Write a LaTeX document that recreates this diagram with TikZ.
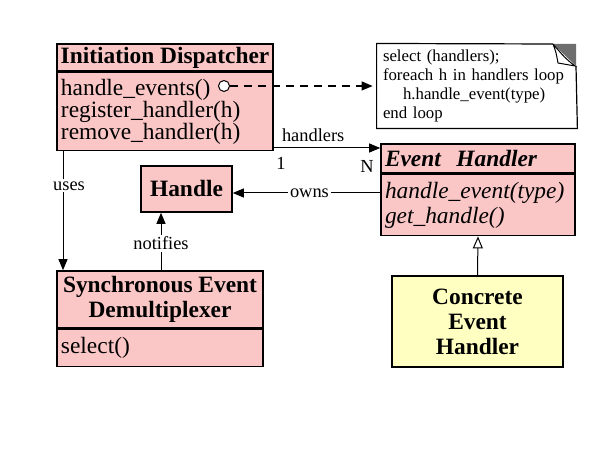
\documentclass[tikz,border=0pt]{standalone}
\usepackage{fontspec}
\setmainfont{Liberation Serif}
\usetikzlibrary{positioning,arrows.meta}
\definecolor{classpink}{RGB}{250,198,198}
\definecolor{classyellow}{RGB}{255,255,194}
\definecolor{foldgray}{RGB}{110,110,110}
\tikzset{
  cls/.style={draw, fill=classpink, line width=0.8pt, inner sep=2pt},
  clsname/.style={cls, font=\bfseries\fontsize{11.7}{12.5}\selectfont},
  clsops/.style={cls, align=left, font=\fontsize{11.7}{11}\selectfont},
  lbl/.style={font=\fontsize{9.2}{10}\selectfont, inner sep=1pt},
  conn/.style={line width=0.5pt, -{Triangle[length=5.5pt,width=4.5pt]}},
}
\begin{document}
\begin{tikzpicture}[x=0.5pt,y=-0.5pt]
  \useasboundingbox (0,0) rectangle (606,453);

  % initiation dispatcher
  \node[clsname, minimum width=108pt, minimum height=13.5pt, inner sep=0pt] (disp) at (165,57.5) {Initiation Dispatcher};
  \node[clsops, below=0pt of disp, minimum width=108pt, minimum height=39pt, text width=104pt] (dispops)
    {handle\_events()\\register\_handler(h)\\remove\_handler(h)};
  \node[circle, draw, fill=white, line width=0.5pt, inner sep=0pt, minimum size=5.5pt] (ball) at (224,86) {};

  % note
  \node[align=left, text width=94pt, minimum width=99pt, minimum height=42pt, inner sep=3pt,
        font=\fontsize{8.4}{9.5}\selectfont] (note) at (477,86)
    {select (handlers);\\foreach h in handlers loop\\\hspace*{10pt}h.handle\_event(type)\\end loop};
  \draw[line width=0.6pt] (553,44) -- (note.north west) -- (note.south west) -- (note.south east) -- (576,66);
  \fill[foldgray] (553,44) -- (576,44) -- (576,66) -- cycle;
  \draw[fill=white, line width=0.5pt] (553,44) .. controls (556,52) .. (558,63) -- (575,66) .. controls (565,58) .. (553,44);

  % event handler
  \node[clsname, minimum width=97pt, minimum height=14.5pt, text width=93pt, align=left, inner sep=2pt,
        font=\bfseries\itshape\fontsize{11.7}{12.5}\selectfont] (evt) at (478,158.5) {Event~~Handler};
  \node[clsops, below=0pt of evt, minimum width=97pt, minimum height=30.5pt, text width=93pt,
        font=\itshape\fontsize{11.7}{12.5}\selectfont] (evtops) {handle\_event(type)\\get\_handle()};

  % handle
  \node[clsname, minimum width=45.5pt, minimum height=23pt] (handle) at (186.5,189) {Handle};

  % demultiplexer
  \node[clsname, minimum width=103pt, minimum height=28.5pt, align=center, inner sep=0pt] (sync) at (160,299.5)
    {Synchronous Event\\Demultiplexer};
  \node[clsops, below=0pt of sync, minimum width=103pt, minimum height=18.5pt, text width=99pt] (syncops) {select()};

  % concrete handler
  \node[clsname, fill=classyellow, minimum width=85.5pt, minimum height=45.5pt, align=center] (conc) at (477.5,321.5)
    {Concrete\\Event\\Handler};

  % connectors
  \draw[dash pattern=on 4pt off 3pt, line width=0.6pt, -{Triangle[length=5.5pt,width=4.5pt]}, shorten >=2pt]
    (ball) -- (ball -| note.west);
  \draw[conn] (dispops.east |- 0,148) -- (evt.west |- 0,148)
    node[lbl, pos=0.37, above=2pt] (hlab) {handlers};
  \node[lbl] (one) at (281,163) {1};
  \node[lbl] (many) at (367,166) {N};
  \draw[conn] (evtops.west |- 0,193) -- (handle.east |- 0,193)
    node[lbl, fill=white, pos=0.48] (owns) {owns};
  \draw[conn] (dispops.south west -| 63,0) -- (sync.north west -| 63,0)
    node[lbl, fill=white, pos=0.29, xshift=3pt] (uses) {uses};
  \draw[conn] (sync.north -| 161,0) -- (handle.south -| 161,0)
    node[lbl, fill=white, pos=0.47] (notif) {notifies};
  \draw[line width=0.5pt, -{Triangle[open, length=6pt, width=5pt]}] (conc.north) -- (evtops.south);
\end{tikzpicture}
\end{document}
